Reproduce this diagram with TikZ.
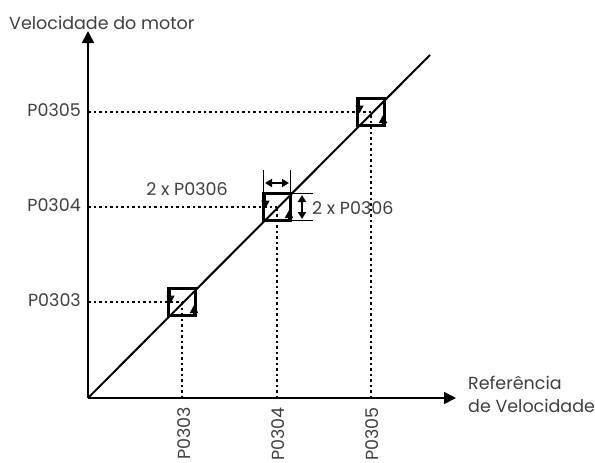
\documentclass[tikz,border=0pt]{standalone}
\usepackage{fontspec}
\setmainfont{Poppins}
\usetikzlibrary{arrows.meta}
\begin{document}
\begin{tikzpicture}[x=1pt,y=-1pt,
  axis/.style={line width=1.8pt,-{Triangle[length=12pt,width=12pt]}},
  guide/.style={line width=1.4pt,dash pattern=on 2.5pt off 3pt},
  hbox/.style={line width=2.2pt},
  hyst/.style={line width=1.6pt,-{Triangle[length=8pt,width=8pt]}},
  dim/.style={line width=1.8pt,{Triangle[length=7pt,width=8pt]}-{Triangle[length=7pt,width=8pt]}},
  ext/.style={line width=0.6pt},
  lbl/.style={font=\fontsize{17.5}{21}\selectfont, text=black!75, inner sep=0pt}]
\useasboundingbox (0,0) rectangle (595,463);
% axes
\coordinate (O) at (88,398);
\coordinate (ytip) at (88,31);
\coordinate (xtip) at (456,398);
\draw[axis] (O) -- (ytip);
\draw[axis] (O) -- (xtip);
\coordinate (dend) at (430,55);
% centres
\coordinate (c3) at (182,302);
\coordinate (c4) at (277,207);
\coordinate (c5) at (371,112);
\coordinate (a3) at (88,302);
\coordinate (a4) at (88,207);
\coordinate (a5) at (88,112);
\coordinate (b3) at (182,398);
\coordinate (b4) at (277,398);
\coordinate (b5) at (371,398);
\draw[guide] (a3) -- (c3);
\draw[guide] (a4) -- (c4);
\draw[guide] (a5) -- (c5);
\draw[guide] (b3) -- (c3);
\draw[guide] (b4) -- (c4);
\draw[guide] (b5) -- (c5);
% boxes
\foreach \c in {c3,c4,c5}{
  \draw[hbox] ([shift={(-13.5,-13.5)}]\c) rectangle ([shift={(13.5,13.5)}]\c);
  \draw[hyst] ([shift={(-11.5,-12.5)}]\c) -- ([shift={(-11.5,1.5)}]\c);
  \draw[hyst] ([shift={(12,12.5)}]\c) -- ([shift={(12,3)}]\c);
}
% diagonal
\draw[line width=2pt] (O) -- (dend);
% dimension lines
\coordinate (e1) at (263.5,170);
\coordinate (e2) at (290.5,170);
\draw[ext] (e1) -- (263.5,193.5);
\draw[ext] (e2) -- (290.5,193.5);
\draw[dim] (265,183) -- (289,183);
\draw[ext] (290.5,193.5) -- (313,193.5);
\draw[ext] (290.5,220.5) -- (313,220.5);
\draw[dim] (302,195) -- (302,219);
% labels
\node[lbl,anchor=west] (ttl) at (9,23) {Velocidade do motor};
\node[lbl,anchor=east] (l5) at (81,110) {P0305};
\node[lbl,anchor=east] (l4) at (81,205) {P0304};
\node[lbl,anchor=east] (l3) at (81,300) {P0303};
\node[lbl] (d1) at (187,189) {2 x P0306};
\node[lbl,anchor=west] (d2) at (312,208) {2 x P0306};
\node[lbl,anchor=east,rotate=90] (t3) at (184,407) {P0303};
\node[lbl,anchor=east,rotate=90] (t4) at (278,407) {P0304};
\node[lbl,anchor=east,rotate=90] (t5) at (372,407) {P0305};
\node[lbl,anchor=north west,align=left] (xl) at (468,376) {Referência\\[2pt]de Velocidade};
\end{tikzpicture}
\end{document}
